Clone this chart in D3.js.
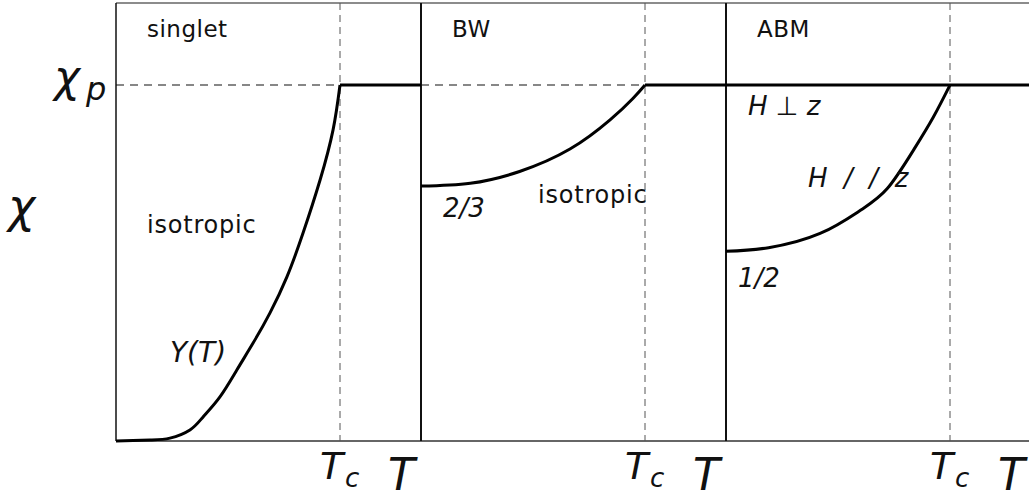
<!DOCTYPE html>
<html>
<head>
<meta charset="utf-8">
<script src="https://cdn.jsdelivr.net/npm/d3@7"></script>
<style>
  body { margin: 0; background: #fff; }
  text { font-family: "DejaVu Sans", sans-serif; fill: #111; white-space: pre; }
</style>
</head>
<body>
<svg width="1029" height="502"></svg>
<script>
// panels (phases)
const panels = ["singlet", "BW", "ABM"];
// T / Tc sample points and chi / chi_p
const singletT = [0, 0.152, 0.241, 0.33, 0.388, 0.464, 0.54, 0.612, 0.6875, 0.763, 0.835, 0.911, 0.969, 1];
const singletChi = [0, 0.003, 0.008, 0.031, 0.067, 0.124, 0.2, 0.275, 0.36, 0.461, 0.584, 0.733, 0.874, 1];
const bwT = [0, 0.22, 0.44, 0.665, 0.844, 0.946, 1];
const bwChi = [0.716, 0.724, 0.757, 0.82, 0.902, 0.962, 1];
const abmT = [0, 0.19, 0.42, 0.6, 0.72, 0.835, 0.924, 1];
const abmChi = [0.533, 0.543, 0.583, 0.648, 0.709, 0.815, 0.908, 1];
const lowLabels = ["", "2/3", "1/2"];

const svg = d3.select("svg");
const left = 116, panelW = 305, topY = 3, bottom = 441;
const tMax = 305 / 224; // Tc sits 224px into each panel

let y = d3.scaleLinear().domain([0, 1]).range([bottom, 85]);
let xs = panels.map((p, i) => d3.scaleLinear().domain([0, tMax]).range([left + i * panelW, left + (i + 1) * panelW]));

let line = (x) => d3.line().x(d => x(d[0])).y(d => y(d[1])).curve(d3.curveNatural);

// frame
svg.append("line").attr("x1", left).attr("x2", 1029).attr("y1", topY).attr("y2", topY)
  .attr("stroke", "#666").attr("stroke-width", 1.5);
svg.append("line").attr("x1", left).attr("x2", 1029).attr("y1", bottom).attr("y2", bottom)
  .attr("stroke", "#333").attr("stroke-width", 1.5);
xs.forEach((x, i) => {
  svg.append("line").attr("x1", x(0)).attr("x2", x(0)).attr("y1", topY).attr("y2", bottom)
    .attr("stroke", "#111").attr("stroke-width", i == 0 ? 1.5 : 2);
  // Tc dashed
  svg.append("line").attr("x1", x(1)).attr("x2", x(1)).attr("y1", topY).attr("y2", bottom)
    .attr("stroke", "#555").attr("stroke-width", 1).attr("stroke-dasharray", "7,5");
});

// chi_p dashed guides (singlet, BW)
[0, 1].forEach(i => {
  svg.append("line").attr("x1", xs[i](0)).attr("x2", xs[i](1)).attr("y1", y(1)).attr("y2", y(1))
    .attr("stroke", "#111").attr("stroke-width", 1.2).attr("stroke-dasharray", "8,6");
});

// curves
let series = [
  d3.zip(singletT, singletChi),
  d3.zip(bwT, bwChi),
  d3.zip(abmT, abmChi)
];
series.forEach((s, i) => {
  svg.append("path").attr("d", line(xs[i])(s))
    .attr("fill", "none").attr("stroke", "#000").attr("stroke-width", 3);
  svg.append("line").attr("x1", xs[i](1)).attr("x2", xs[i](tMax)).attr("y1", y(1)).attr("y2", y(1))
    .attr("stroke", "#000").attr("stroke-width", 3);
});
// H perp z branch in ABM
svg.append("line").attr("x1", xs[2](0)).attr("x2", xs[2](1)).attr("y1", y(1)).attr("y2", y(1))
  .attr("stroke", "#000").attr("stroke-width", 3);

// labels
xs.forEach((x, i) => {
  svg.append("text").attr("x", x(0) + 31).attr("y", 37).attr("font-size", 23)
    .attr("letter-spacing", 0.5).text(panels[i]);
  svg.append("text").attr("x", x(1) - 20).attr("y", 479).attr("font-size", 38)
    .attr("font-style", "italic").text("T");
  svg.append("text").attr("x", x(1) + 5).attr("y", 487).attr("font-size", 26)
    .attr("font-style", "italic").text("c");
  svg.append("text").attr("x", x(1) + 48).attr("y", 490).attr("font-size", 44).attr("font-style", "italic").text("T");
  if (lowLabels[i]) {
    svg.append("text").attr("x", x(0) + (i == 1 ? 22 : 12)).attr("y", y(series[i][0][1]) + (i == 1 ? 31 : 36))
      .attr("font-size", 26).attr("font-style", "italic").text(lowLabels[i]);
  }
});

svg.append("text").attr("x", 147).attr("y", 233).attr("font-size", 24).attr("letter-spacing", 0.8).text("isotropic");
svg.append("text").attr("x", 538).attr("y", 203).attr("font-size", 24).attr("letter-spacing", 0.8).text("isotropic");
svg.append("text").attr("x", 170).attr("y", 362).attr("font-size", 28).attr("font-style", "italic").text("Y(T)");
svg.append("text").attr("x", 748).attr("y", 115).attr("font-size", 26).attr("font-style", "italic").text("H \u22A5 z");
svg.append("text").attr("x", 808).attr("y", 187).attr("font-size", 26).attr("font-style", "italic").text("H  /  /  z");

let chip = svg.append("text").attr("x", 54).attr("y", 92).attr("font-size", 44).attr("font-style", "italic");
chip.append("tspan").text("\u03C7");
chip.append("tspan").attr("dx", 6).attr("dy", 8).attr("font-size", 32).text("p");
svg.append("text").attr("x", 8).attr("y", 222).attr("font-size", 46).attr("font-style", "italic").text("\u03C7");
</script>
</body>
</html>
